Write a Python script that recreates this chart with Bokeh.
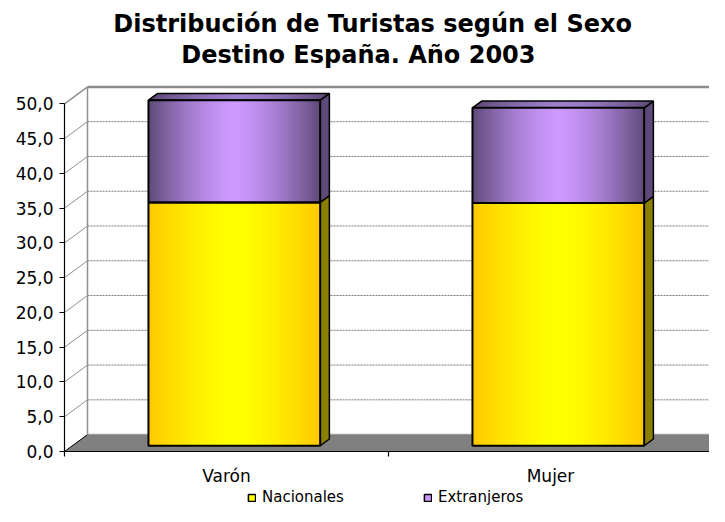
from bokeh.plotting import figure
from bokeh.layouts import column
from bokeh.models import (Range1d, FixedTicker, Legend, LegendItem,
                          ColumnDataSource, LinearAxis)
from bokeh.core.properties import value
from bokeh.embed import file_html
from bokeh.resources import INLINE

# ---------------- data ----------------
categories = ["Varón", "Mujer"]
series_names = ["Nacionales", "Extranjeros"]
nacionales = [35.0, 34.9]
extranjeros = [14.7, 13.7]
y_ticks = [0, 5, 10, 15, 20, 25, 30, 35, 40, 45, 50]
y_tick_labels = ["0,0", "5,0", "10,0", "15,0", "20,0", "25,0", "30,0",
                 "35,0", "40,0", "45,0", "50,0"]
title_lines = ["Distribución de Turistas según el Sexo", "Destino España. Año 2003"]

# ---------------- style / geometry ----------------
PX_X = 324.0          # pixels per x unit
PX_Y = 7.0            # pixels per y unit
DX = 23.0 / PX_X      # depth offset (x)
DY = 17.0 / PX_Y      # depth offset (y)
T0, T1 = 0.34, 0.74   # bar front / back depth
BAR_W = 0.53
centers = [0.5 + i for i in range(len(categories))]
NSTRIP = 60
OVL = 0.003
FONT = "DejaVu Sans"

yellow_edge, yellow_mid, yellow_side = "#FFC800", "#FFFF00", "#8A8000"
purple_edge, purple_mid, purple_side = "#5E4A78", "#CC99FF", "#5E4A78"
purple_top_mid = "#9E7FCC"


def hex2rgb(h):
    h = h.lstrip("#")
    return tuple(int(h[i:i + 2], 16) for i in (0, 2, 4))


def mix(c1, c2, f):
    a, b = hex2rgb(c1), hex2rgb(c2)
    return "#%02x%02x%02x" % tuple(int(round(a[i] + (b[i] - a[i]) * f)) for i in range(3))


def prof(s):
    return 1.0 - abs(2.0 * s - 1.0) ** 1.5


def P(x, y, t):
    return x + t * DX, y + t * DY


W = 709
H_MAIN, H_LEG = 488, 18
BL = 64
FRAME_H = 454
BB = H_MAIN - FRAME_H
FRAME_W = W - BL
p = figure(width=W, height=H_MAIN, output_backend="svg", toolbar_location=None,
           x_range=Range1d(0, FRAME_W / PX_X), y_range=Range1d(0, FRAME_H / PX_Y),
           x_axis_type=None, y_axis_type=None,
           min_border_left=BL, min_border_right=0, min_border_top=0,
           min_border_bottom=BB)
p.outline_line_color = None
p.background_fill_color = "white"
p.border_fill_color = "white"
p.xgrid.visible = False
p.ygrid.visible = False

XMAX = float(len(categories))
XFAR = XMAX + 1.0

# ---------------- title (two lines) ----------------
p.text(x=[0.951, 0.907], y=[61.43, 57.0], text=title_lines,
       text_align="center", text_baseline="alphabetic",
       text_font=value(FONT), text_font_style="bold", text_font_size="24px",
       text_color="black")

# floor
fx = [P(0, 0, 0)[0], P(XMAX, 0, 0)[0], P(XMAX, 0, 1)[0], P(0, 0, 1)[0]]
fy = [P(0, 0, 0)[1], P(XMAX, 0, 0)[1], P(XMAX, 0, 1)[1], P(0, 0, 1)[1]]
p.patch(fx, fy, fill_color="#808080", line_color="black", line_width=1)
p.line([DX, XFAR], [DY, DY], line_color="#A0A0A0", line_width=1.5)

# back wall gridlines (dotted) and side wall diagonals
grid_vals = [v for v in y_ticks if 0 < v < y_ticks[-1]]
p.multi_line([[DX, XFAR] for v in grid_vals], [[v + DY, v + DY] for v in grid_vals],
             line_color="#777777", line_width=1, line_dash="2 1")
p.multi_line([[0, DX] for v in grid_vals], [[v, v + DY] for v in grid_vals],
             line_color="#909090", line_width=1)
top = y_ticks[-1]
p.line([DX, DX], [DY, top + DY], line_color="#909090", line_width=1.5)
p.line([DX, XFAR], [top + DY, top + DY], line_color="#8C8C8C", line_width=2.5)
p.line([0, DX], [top, top + DY], line_color="#909090", line_width=1.5)

# ---------------- bars ----------------
segments = []
for i, c in enumerate(centers):
    segments.append((c, 0.0, nacionales[i], yellow_edge, yellow_mid, yellow_side, False))
    segments.append((c, nacionales[i], nacionales[i] + extranjeros[i],
                     purple_edge, purple_mid, purple_side, True))

strip = dict(left=[], right=[], bottom=[], top=[], color=[])
outline = dict(left=[], right=[], bottom=[], top=[])
side = dict(xs=[], ys=[], color=[])
topface = dict(xs=[], ys=[], color=[])
topline = dict(xs=[], ys=[])
for (c, b, t, ce, cm, cs, is_top) in segments:
    xl, xr = c - BAR_W / 2, c + BAR_W / 2
    fl, fb = P(xl, b, T0)
    frr, ft = P(xr, t, T0)
    for k in range(NSTRIP):
        s0, s1 = k / NSTRIP, (k + 1) / NSTRIP
        strip["left"].append(fl + (frr - fl) * s0)
        strip["right"].append(min(fl + (frr - fl) * s1 + OVL, frr))
        strip["bottom"].append(fb)
        strip["top"].append(ft)
        strip["color"].append(mix(ce, cm, prof((s0 + s1) / 2)))
    outline["left"].append(fl)
    outline["right"].append(frr)
    outline["bottom"].append(fb)
    outline["top"].append(ft)
    pts = [P(xr, b, T0), P(xr, t, T0), P(xr, t, T1), P(xr, b, T1)]
    side["xs"].append([q[0] for q in pts])
    side["ys"].append([q[1] for q in pts])
    side["color"].append(cs)
    if is_top:
        for k in range(NSTRIP):
            s0, s1 = k / NSTRIP, (k + 1) / NSTRIP
            xa, xb = xl + BAR_W * s0, min(xl + BAR_W * s1 + OVL, xr)
            pts = [P(xa, t, T0), P(xb, t, T0), P(xb, t, T1), P(xa, t, T1)]
            topface["xs"].append([q[0] for q in pts])
            topface["ys"].append([q[1] for q in pts])
            topface["color"].append(mix(ce, purple_top_mid, prof((s0 + s1) / 2)))
        pts = [P(xl, t, T0), P(xr, t, T0), P(xr, t, T1), P(xl, t, T1)]
        topline["xs"].append([q[0] for q in pts])
        topline["ys"].append([q[1] for q in pts])

p.patches("xs", "ys", source=ColumnDataSource(side), fill_color="color",
          line_color="black", line_width=1.5)
p.patches("xs", "ys", source=ColumnDataSource(topface), fill_color="color",
          line_color=None)
p.patches("xs", "ys", source=ColumnDataSource(topline), fill_color=None,
          line_color="black", line_width=1.5)
p.quad(left="left", right="right", bottom="bottom", top="top",
       source=ColumnDataSource(strip), fill_color="color", line_color=None)
p.quad(left="left", right="right", bottom="bottom", top="top",
       source=ColumnDataSource(outline), fill_color=None, line_color="black",
       line_width=2)

# ---------------- axes ----------------
yaxis = LinearAxis(ticker=FixedTicker(ticks=y_ticks, minor_ticks=[]), bounds=(0, top),
                   major_tick_out=5, major_tick_in=0, minor_tick_out=0, minor_tick_in=0,
                   major_label_overrides={v: l for v, l in zip(y_ticks, y_tick_labels)},
                   major_label_text_font=FONT, major_label_text_font_size="17px",
                   major_label_text_color="black", major_label_standoff=6,
                   axis_line_color="black", axis_line_width=1.2,
                   major_tick_line_color="black", major_tick_line_width=1.2)
p.add_layout(yaxis, "left")

xaxis = LinearAxis(ticker=FixedTicker(ticks=centers, minor_ticks=[float(i) for i in range(len(categories) + 1)]),
                   bounds=(0, XMAX), major_tick_out=0, major_tick_in=0,
                   minor_tick_out=5, minor_tick_in=0, minor_tick_line_color="black",
                   minor_tick_line_width=1.2,
                   major_label_overrides={c: n for c, n in zip(centers, categories)},
                   major_label_text_font=FONT, major_label_text_font_size="17px",
                   major_label_text_color="black", major_label_standoff=9,
                   axis_line_color="black", axis_line_width=1.2)
p.add_layout(xaxis, "below")

# ---------------- legend (separate strip below) ----------------
lg = figure(width=W, height=H_LEG, output_backend="svg", toolbar_location=None,
            x_range=Range1d(0, 1), y_range=Range1d(0, 1),
            x_axis_type=None, y_axis_type=None,
            min_border_left=0, min_border_right=0, min_border_top=0, min_border_bottom=0)
lg.outline_line_color = None
lg.xgrid.visible = False
lg.ygrid.visible = False
# legend swatches only (kept outside the visible range of this strip)
r_nac = lg.quad(left=[-2], right=[-1], top=[-1], bottom=[-2], fill_color=yellow_mid,
                line_color="black", line_width=1.5)
r_ext = lg.quad(left=[-2], right=[-1], top=[-1], bottom=[-2], fill_color=purple_mid,
                line_color="black", line_width=1.5)
legend = Legend(items=[LegendItem(label=series_names[0], renderers=[r_nac]),
                       LegendItem(label=series_names[1], renderers=[r_ext])],
                location=(183, 0), orientation="horizontal",
                glyph_width=9, glyph_height=9, label_standoff=6, spacing=79,
                padding=0, margin=0, border_line_color=None, background_fill_alpha=0,
                label_text_font=FONT, label_text_font_size="15px",
                label_text_color="black", label_height=16)
lg.add_layout(legend, "center")

layout = column(p, lg, spacing=0)
open("out.html", "w").write(file_html(layout, INLINE))
